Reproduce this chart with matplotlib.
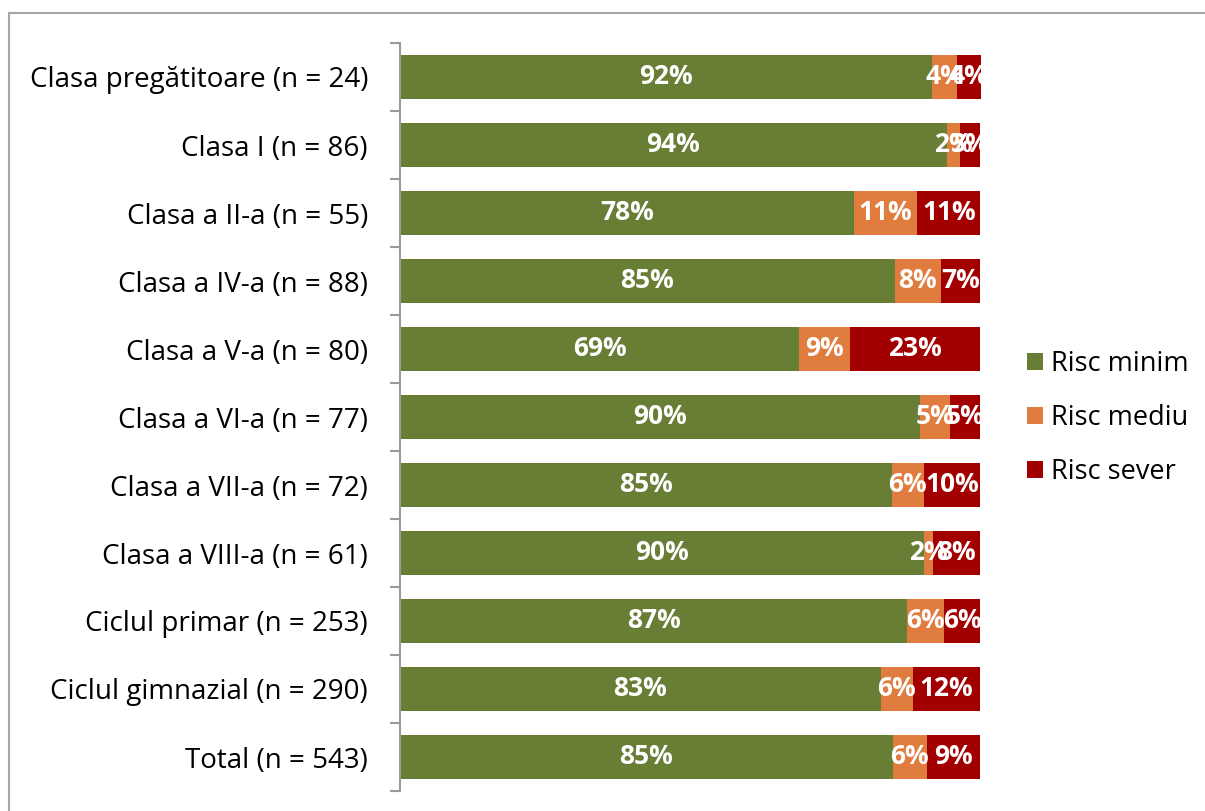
import matplotlib
matplotlib.use("Agg")
import matplotlib.pyplot as plt
from matplotlib.lines import Line2D
import numpy as np

plt.rcParams['font.family'] = ['Open Sans', 'DejaVu Sans']

categories = ["Clasa pregătitoare (n = 24)", "Clasa I (n = 86)", "Clasa a II-a (n = 55)",
              "Clasa a IV-a (n = 88)", "Clasa a V-a (n = 80)", "Clasa a VI-a (n = 77)",
              "Clasa a VII-a (n = 72)", "Clasa a VIII-a (n = 61)", "Ciclul primar (n = 253)",
              "Ciclul gimnazial (n = 290)", "Total (n = 543)"]
risc_minim = [91.7, 94.2, 78.2, 85.2, 68.75, 89.6, 84.7, 90.2, 87.4, 82.8, 84.9]
risc_mediu = [4.2, 2.3, 10.9, 8.0, 8.75, 5.2, 5.6, 1.6, 6.3, 5.5, 5.9]
risc_sever = [4.2, 3.5, 10.9, 6.8, 22.5, 5.2, 9.7, 8.2, 6.3, 11.7, 9.2]
labels_minim = ["92%", "94%", "78%", "85%", "69%", "90%", "85%", "90%", "87%", "83%", "85%"]
labels_mediu = ["4%", "2%", "11%", "8%", "9%", "5%", "6%", "2%", "6%", "6%", "6%"]
labels_sever = ["4%", "3%", "11%", "7%", "23%", "5%", "10%", "8%", "6%", "12%", "9%"]
series_names = ["Risc minim", "Risc mediu", "Risc sever"]
colors = ["#687E35", "#E07C3E", "#A20000"]

W, H = 1205, 811
fig = plt.figure(figsize=(W / 100, H / 100), dpi=100)
ax = fig.add_axes([400 / W, 1 - 791 / H, 581 / W, 748 / H])

y = np.arange(len(categories))
left = np.zeros(len(categories))
all_labels = [labels_minim, labels_mediu, labels_sever]
for vals, name, col, labs in zip([risc_minim, risc_mediu, risc_sever], series_names, colors, all_labels):
    vals = np.array(vals)
    bars = ax.barh(y, vals, left=left, height=0.66, color=col, label=name, edgecolor='none')
    ax.bar_label(bars, labels=labs, label_type='center', color='white',
                 fontsize=19, fontweight='bold')
    left = left + vals

total = max(left)
ax.set_xlim(0, total)
ax.set_ylim(len(categories) - 0.5, -0.5)
ax.set_yticks(y)
ax.set_yticklabels(categories, fontsize=20)
ax.tick_params(axis='y', which='major', length=0, pad=23)
ax.set_yticks(np.arange(-0.5, len(categories)), minor=True)
ax.tick_params(axis='y', which='minor', length=7.5, width=1.5, color='#9A9A9A', direction='out')
ax.set_xticks([])
for s in ['top', 'right', 'bottom']:
    ax.spines[s].set_visible(False)
ax.spines['left'].set_color('#9A9A9A')
ax.spines['left'].set_linewidth(1.5)

leg = fig.legend(loc='center left', bbox_to_anchor=(1016 / W, 1 - 418 / H), frameon=False,
                 fontsize=19.5, handlelength=0.6, handleheight=0.6, handletextpad=0.3,
                 labelspacing=0.95, borderaxespad=0)

# outer frame
fig.add_artist(Line2D([9 / W, 9 / W], [0, 1 - 13 / H], transform=fig.transFigure,
                      color='#A6A6A6', lw=1.5))
fig.add_artist(Line2D([9 / W, 1], [1 - 13 / H, 1 - 13 / H], transform=fig.transFigure,
                      color='#A6A6A6', lw=1.5))

fig.savefig("out.png", dpi=100)
